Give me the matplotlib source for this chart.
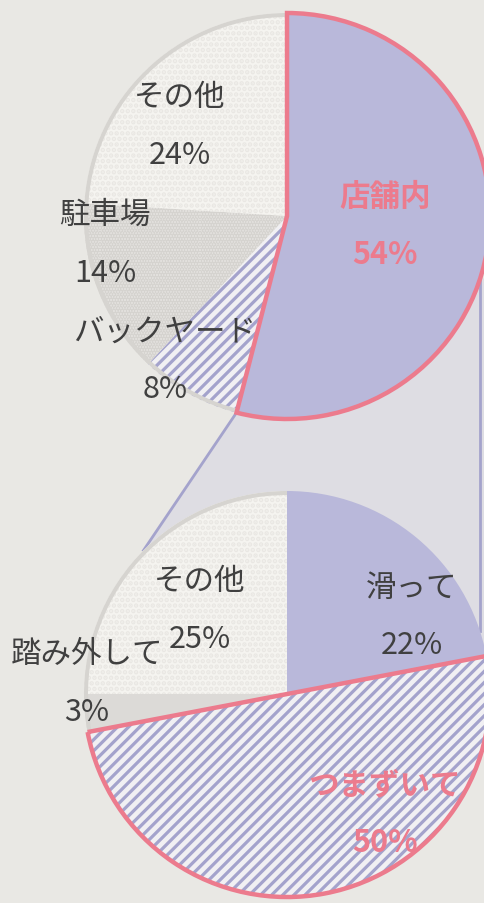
import numpy as np
import matplotlib.pyplot as plt
from matplotlib.patches import Wedge, Polygon

plt.rcParams['font.family'] = ['Noto Sans CJK JP', 'DejaVu Sans']
plt.rcParams['hatch.linewidth'] = 2.3

# どこで転んだか (上の円)
place_labels = ['店舗内', 'バックヤード', '駐車場', 'その他']
place_share = [54, 8, 14, 24]

# 店舗内の内訳 (下の円)
cause_labels = ['滑って', 'つまずいて', '踏み外して', 'その他']
cause_share = [22, 50, 3, 25]

W, H = 484, 904
bg = '#e9e8e4'
pink = '#ec7b8d'
lav = '#b9b8da'
stripe = '#a4a3cc'
ink = '#404040'
ring = '#d6d4d0'

fig = plt.figure(figsize=(W / 100, H / 100), dpi=100, facecolor=bg)
ax = fig.add_axes([0, 0, 1, 1])
ax.set_facecolor(bg)

R = 203
top_c = np.array([287, H - 217])
bot_c = np.array([287, H - 695])


def on_circle(c, ang):
    a = np.radians(ang)
    return c + R * np.array([np.cos(a), np.sin(a)])


# connector from the 店舗内 slice down to the lower pie
end_ang = 90 - 3.6 * place_share[0]
p1 = on_circle(top_c, end_ang)
p2 = on_circle(bot_c, 135)
xr = 480
y_top = top_c[1] - np.sqrt(R**2 - (xr - top_c[0])**2)
y_bot = bot_c[1] + np.sqrt(R**2 - (xr - bot_c[0])**2)
ax.add_patch(Polygon([p1, p2, bot_c, (W, bot_c[1]), (W, y_top), top_c],
                     closed=True, fc='#dedde3', ec='none', zorder=0))
ax.plot([p1[0], p2[0]], [p1[1], p2[1]], color=stripe, lw=2, zorder=1)
ax.plot([xr, xr], [y_top, y_bot], color=stripe, lw=2, zorder=1)

# upper pie
w_top, _ = ax.pie(place_share, center=top_c, radius=R, startangle=90,
                  counterclock=False, explode=[0.03, 0, 0, 0],
                  wedgeprops=dict(linewidth=0))
top_style = [dict(fc=lav, ec=lav),
             dict(fc='#f1f0f3', ec=stripe, hatch='///'),
             dict(fc='#e4e2df', ec='#d5d3cf', hatch='......'),
             dict(fc='#f5f4f0', ec='#e9e7e3', hatch='...')]
for w, st in zip(w_top, top_style):
    w.set(zorder=2, **st)

# lower pie
w_bot, _ = ax.pie(cause_share, center=bot_c, radius=R, startangle=90,
                  counterclock=False, explode=[0, 0.03, 0, 0],
                  wedgeprops=dict(linewidth=0))
bot_style = [dict(fc=lav, ec=lav),
             dict(fc='#f1f0f3', ec=stripe, hatch='///'),
             dict(fc='#dcdad7', ec='#dcdad7'),
             dict(fc='#f5f4f0', ec='#e9e7e3', hatch='...')]
for w, st in zip(w_bot, bot_style):
    w.set(zorder=2, **st)

# faint grey rim round the faded part of each pie
ax.add_patch(Wedge(w_top[1].center, R, w_top[-1].theta1, w_top[1].theta2,
                   width=4, fc=ring, ec='none', zorder=2.5))
ax.add_patch(Wedge(w_bot[2].center, R, w_bot[-1].theta1, w_bot[2].theta2,
                   width=4, fc=ring, ec='none', zorder=2.5))

# pink outline on the highlighted slices
for w in (w_top[0], w_bot[1]):
    ax.add_patch(Wedge(w.center, w.r, w.theta1, w.theta2, fill=False,
                       ec=pink, lw=3.2, zorder=3))

# labels (image pixel positions)
top_pos = [(385, 197), (165, 332), (105, 215), (180, 97)]
bot_pos = [(412, 588), (385, 785), (87, 655), (200, 582)]
gap = 58


def put_labels(labels, shares, pos, hot):
    for i, (lab, v, (x, y)) in enumerate(zip(labels, shares, pos)):
        col = pink if i == hot else ink
        fw = 'bold' if i == hot else 'normal'
        ax.text(x, H - y, lab, color=col, fontsize=22, fontweight=fw,
                ha='center', va='center', zorder=5)
        ax.text(x, H - y - gap, f'{v}%', color=col, fontsize=22,
                fontweight=fw, ha='center', va='center', zorder=5)


put_labels(place_labels, place_share, top_pos, 0)
put_labels(cause_labels, cause_share, bot_pos, 1)

ax.set_xlim(0, W)
ax.set_ylim(0, H)
ax.set_aspect('auto')
ax.axis('off')

fig.savefig('out.png', dpi=100, facecolor=bg)
